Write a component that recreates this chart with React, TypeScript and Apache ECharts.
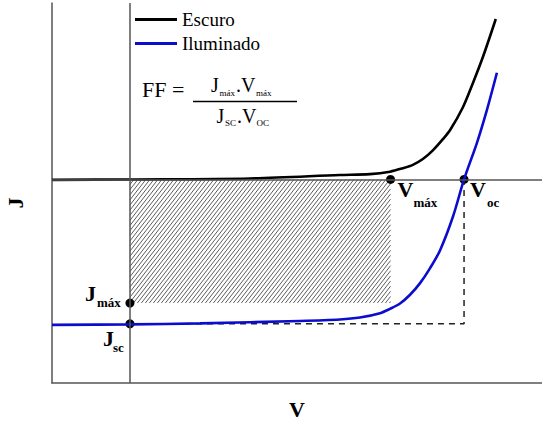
import React, { useEffect, useRef } from "react";
import * as echarts from "echarts";

// Axis ranges (V in volts, J in mA/cm²)
const V_RANGE = [-0.14, 0.74];
const J_RANGE = [-42, 36.4];

// Dark curve (Escuro)
const darkV = [-0.14, 0, 0.2155, 0.377, 0.431, 0.467, 0.49, 0.508, 0.526, 0.544, 0.562, 0.575, 0.598, 0.616, 0.634, 0.657];
const darkJ = [-0.1, 0, 0.2, 0.9, 1.1, 1.6, 2.3, 3.0, 4.2, 6.0, 8.3, 10.2, 14.9, 19.9, 25.3, 33.1];

// Illuminated curve (Iluminado)
const lightV = [-0.14, 0, 0.1257, 0.3053, 0.377, 0.413, 0.449, 0.467, 0.485, 0.503, 0.521, 0.539, 0.557, 0.58, 0.6, 0.623, 0.641, 0.659];
const lightJ = [-30.0, -29.9, -29.7, -29.2, -28.9, -28.5, -27.6, -26.7, -25.6, -23.8, -21.4, -18.3, -14.6, -7.7, 0, 7.5, 14.3, 22.0];

// Characteristic points
const V_MAXP = 0.468;
const J_MAXP = -25.5;
const J_SC = -29.8;
const V_OC = 0.6;

const seriesNames = ["Escuro", "Iluminado"];

const FONT = "Liberation Serif";

export default function App() {
  const ref = useRef<HTMLDivElement>(null);

  useEffect(() => {
    document.body.style.margin = "0";
    if (!ref.current) return;
    const chart = echarts.init(ref.current, undefined, { renderer: "svg" });

    const zip = (a: number[], b: number[]) => a.map((v, i) => [v, b[i]]);

    chart.setOption({
      animation: false,
      grid: { left: 52, right: 0, top: 3, bottom: 42, containLabel: false },
      legend: {
        data: seriesNames,
        orient: "vertical",
        left: 135,
        top: 10,
        padding: 0,
        itemWidth: 42,
        itemHeight: 3,
        itemGap: 5,
        icon: "rect",
        textStyle: { fontFamily: FONT, fontSize: 19, color: "#000" },
      },
      xAxis: {
        type: "value",
        min: V_RANGE[0],
        max: V_RANGE[1],
        axisLine: { show: true, onZero: false, lineStyle: { color: "#555", width: 1.5 } },
        axisTick: { show: false },
        axisLabel: { show: false },
        splitLine: { show: false },
        name: "V",
        nameLocation: "middle",
        nameGap: 15,
        nameTextStyle: { fontFamily: FONT, fontSize: 22, fontWeight: "bold", color: "#000" },
      },
      yAxis: {
        type: "value",
        min: J_RANGE[0],
        max: J_RANGE[1],
        axisLine: { show: true, onZero: false, lineStyle: { color: "#555", width: 1.5 } },
        axisTick: { show: false },
        axisLabel: { show: false },
        splitLine: { show: false },
      },
      series: [
        {
          type: "custom",
          name: "hatch",
          silent: true,
          data: [[0, 0, V_MAXP, J_MAXP]],
          encode: { x: [0, 2], y: [1, 3] },
          renderItem: (params: any, api: any) => {
            const p0 = api.coord([api.value(0), api.value(1)]);
            const p1 = api.coord([api.value(2), api.value(3)]);
            const x0 = Math.min(p0[0], p1[0]);
            const x1 = Math.max(p0[0], p1[0]);
            const y0 = Math.min(p0[1], p1[1]);
            const y1 = Math.max(p0[1], p1[1]);
            const m = Math.tan((52 * Math.PI) / 180);
            const step = 4;
            const children: any[] = [];
            for (let c = x0 + y0 / m; c <= x1 + y1 / m; c += step) {
              const yA = Math.max(y0, m * (c - x1));
              const yB = Math.min(y1, m * (c - x0));
              if (yB - yA > 0.5) {
                children.push({
                  type: "line",
                  shape: { x1: c - yA / m, y1: yA, x2: c - yB / m, y2: yB },
                  style: { stroke: "#333", lineWidth: 0.8 },
                });
              }
            }
            return { type: "group", children };
          },
        },
        {
          type: "line",
          name: "zero",
          data: [],
          silent: true,
          markLine: {
            silent: true,
            symbol: ["none", "none"],
            label: { show: false },
            lineStyle: { color: "#555", width: 1.5, type: "solid" },
            data: [{ yAxis: 0 }, { xAxis: 0 }],
          },
        },
        {
          type: "line",
          name: "dashed",
          data: [
            [0, J_SC],
            [V_OC, J_SC],
            [V_OC, 0],
          ],
          symbol: "none",
          silent: true,
          lineStyle: { color: "#222", width: 1.5, type: [6, 5] },
        },
        {
          type: "line",
          name: "Escuro",
          data: zip(darkV, darkJ),
          smooth: 0.3,
          symbol: "none",
          color: "#000",
          lineStyle: { color: "#000", width: 2.6 },
        },
        {
          type: "line",
          name: "Iluminado",
          data: zip(lightV, lightJ),
          smooth: 0.3,
          symbol: "none",
          color: "#0c0cd0",
          lineStyle: { color: "#0c0cd0", width: 2.6 },
        },
        {
          type: "scatter",
          name: "points",
          data: [
            [V_MAXP, 0],
            [V_OC, 0],
            [0, J_MAXP],
            [0, J_SC],
          ],
          symbolSize: 9,
          itemStyle: { color: "#000", opacity: 1 },
          silent: true,
        },
      ],
    });

    const px = (v: number, j: number) =>
      chart.convertToPixel({ gridIndex: 0 }, [v, j]) as number[];

    const txt = (
      text: string,
      x: number,
      y: number,
      size: number,
      bold: boolean,
      extra: any = {}
    ) => ({
      type: "text",
      x,
      y,
      silent: true,
      style: {
        text,
        fontFamily: FONT,
        fontSize: size,
        fontWeight: bold ? "bold" : "normal",
        fill: "#000",
        align: "left",
        verticalAlign: "middle",
      },
      ...extra,
    });

    const pVmax = px(V_MAXP, 0);
    const pVoc = px(V_OC, 0);
    const pJmax = px(0, J_MAXP);
    const pJsc = px(0, J_SC);

    chart.setOption({
      graphic: [
        // point labels
        txt("V", pVmax[0] + 7, pVmax[1] + 10, 22, true),
        txt("máx", pVmax[0] + 23, pVmax[1] + 23, 13, true),
        txt("V", pVoc[0] + 6, pVoc[1] + 10, 22, true),
        txt("oc", pVoc[0] + 23, pVoc[1] + 23, 13, true),
        txt("J", pJmax[0] - 45, pJmax[1] - 10, 22, true),
        txt("máx", pJmax[0] - 33, pJmax[1] - 1, 13, true),
        txt("J", pJsc[0] - 27, pJsc[1] + 15, 22, true),
        txt("sc", pJsc[0] - 17, pJsc[1] + 24, 13, true),
        // y axis name
        txt("J", 15, 203, 22, true, {
          rotation: Math.PI / 2,
          style: {
            text: "J",
            fontFamily: FONT,
            fontSize: 22,
            fontWeight: "bold",
            fill: "#000",
            align: "center",
            verticalAlign: "middle",
          },
        }),
        // formula
        txt("FF =", 142, 89, 22, false),
        txt("J", 211, 85, 20, false),
        txt("máx", 219.5, 92.5, 9, false),
        txt(".V", 236, 85, 20, false),
        txt("máx", 256, 92.5, 9, false),
        {
          type: "line",
          silent: true,
          shape: { x1: 193, y1: 101.5, x2: 297, y2: 101.5 },
          style: { stroke: "#000", lineWidth: 1.5 },
        },
        txt("J", 216.5, 116, 20, false),
        txt("SC", 225, 122.5, 9, false),
        txt(".V", 237, 116, 20, false),
        txt("OC", 256.5, 122.5, 9, false),
      ],
    });

    return () => chart.dispose();
  }, []);

  return <div ref={ref} style={{ width: 542, height: 425 }} />;
}
